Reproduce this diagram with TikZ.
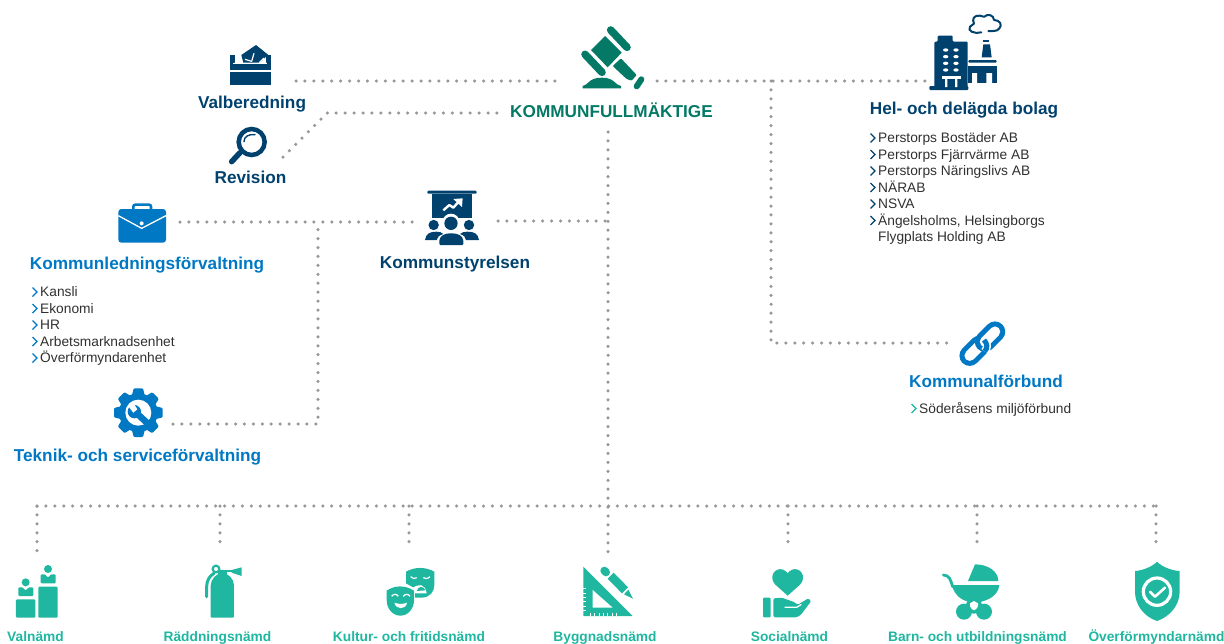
\documentclass[tikz,border=0pt]{standalone}
\usepackage{fontspec}
\setmainfont{Liberation Sans}
\definecolor{navy}{HTML}{00416E}
\definecolor{blu}{HTML}{0078C4}
\definecolor{kfg}{HTML}{047A66}
\definecolor{tl}{HTML}{1FB7A0}
\definecolor{dot}{HTML}{989898}
\definecolor{txt}{HTML}{303030}
\tikzset{
  z/.style 2 args={shift={(#1,#2)},scale=1/3},
  conn/.style={dot,line width=3.5pt,line cap=round,dash pattern=on 0pt off 8.93pt},
  lab/.style={font=\fontsize{17.2}{19}\selectfont\bfseries,inner sep=0pt,anchor=base},
  blab/.style={font=\fontsize{13.75}{15}\selectfont\bfseries,text=tl,inner sep=0pt,anchor=base},
  item/.style={font=\fontsize{13.75}{15}\selectfont,text=txt,inner sep=0pt,anchor=base west},
  chev/.style={line width=1.3pt,line join=miter},
}
\newcommand{\chv}[3]{\draw[chev,#3] (#1-2.5,#2-9) -- (#1+2,#2-4.5) -- (#1-2.5,#2);}
\begin{document}
\begin{tikzpicture}[x=1pt,y=-1pt]
\useasboundingbox (0,0) rectangle (1224,643);
% coordinates
\coordinate (val) at (296,81); \coordinate (kfl) at (560,81);
\coordinate (rev) at (283,157); \coordinate (revb) at (327,113); \coordinate (kfl2) at (497,113);
\coordinate (kfr) at (657,81); \coordinate (bol) at (925,81);
\coordinate (jr) at (771,81); \coordinate (jr2) at (771,343); \coordinate (kfb) at (947,343);
\coordinate (kfd) at (608,132); \coordinate (byg) at (608,560);
\coordinate (kl) at (180,222); \coordinate (ksl) at (415,222);
\coordinate (ksr) at (498,221); \coordinate (ksr2) at (608,221);
\coordinate (j2) at (318,222); \coordinate (j3) at (318,424); \coordinate (tek) at (173,424);
\coordinate (bl) at (37,506); \coordinate (br) at (1156,506);
\foreach \n/\x/\y in {a/37/558,b/220/550,c/409/550,d/788/550,e/977/550,f/1156/545}{
  \coordinate (d\n) at (\x,\y); \coordinate (t\n) at (\x,506);}
% connectors
\draw[conn] (val) -- (kfl);
\draw[conn] (rev) -- (revb) -- (kfl2);
\draw[conn] (kfr) -- (bol);
\draw[conn] (jr) -- (jr2) -- (kfb);
\draw[conn] (kfd) -- (byg);
\draw[conn] (kl) -- (ksl);
\draw[conn] (ksr) -- (ksr2);
\draw[conn] (tek) -- (j3) -- (j2);
\draw[conn] (bl) -- (br);
\foreach \n in {a,b,c,d,e,f}{\draw[conn] (t\n) -- (d\n);}
% labels
\node[lab,text=navy] (lval) at (252,108.5) {Valberedning};
\node[lab,text=navy] (lrev) at (250.5,183) {Revision};
\node[lab,text=kfg] (lkf) at (611.5,117) {KOMMUNFULLMÄKTIGE};
\node[lab,text=navy] (lbol) at (964,114.5) {Hel- och delägda bolag};
\node[lab,text=blu] (lkl) at (147,269) {Kommunledningsförvaltning};
\node[lab,text=navy] (lks) at (455,268) {Kommunstyrelsen};
\node[lab,text=blu] (ltek) at (137.5,461) {Teknik- och serviceförvaltning};
\node[lab,text=blu] (lkfb) at (986,387) {Kommunalförbund};
\node[blab] (b1) at (35.5,641) {Valnämd};
\node[blab] (b2) at (217.5,641) {Räddningsnämd};
\node[blab] (b3) at (409,641) {Kultur- och fritidsnämd};
\node[blab] (b4) at (605,641) {Byggnadsnämd};
\node[blab] (b5) at (789.5,641) {Socialnämd};
\node[blab] (b6) at (977.5,641) {Barn- och utbildningsnämd};
\node[blab] (b7) at (1156.5,641) {Överförmyndarnämd};
% lists
\foreach \t/\y [count=\i] in {Perstorps Bostäder AB/142.5,Perstorps Fjärrvärme AB/159,Perstorps Näringslivs AB/175.5,NÄRAB/192,NSVA/208.5,{Ängelsholms, Helsingborgs}/225}{
  \node[item] (h\i) at (878,\y) {\t}; \chv{873}{\y}{navy}}
\node[item] (h7) at (878,241.5) {Flygplats Holding AB};
\foreach \t/\y [count=\i] in {Kansli/296.5,Ekonomi/313,HR/329.5,Arbetsmarknadsenhet/346,Överförmyndarenhet/362.5}{
  \node[item] (k\i) at (40,\y) {\t}; \chv{35}{\y}{blu}}
\node[item] (s1) at (919,413) {Söderåsens miljöförbund}; \chv{914}{413}{tl}
% ballot box
\begin{scope}[z={180}{20}]
 \fill[navy] (228,75) -- (264,104) -- (240,128) -- (190,128) -- (184,105) -- cycle;
 \fill[navy] (150,105) -- (165,105) -- (165,150) -- (150,150) -- cycle;
 \fill[navy] (258,105) -- (272,105) -- (272,150) -- (258,150) -- cycle;
 \fill[navy] (150,132) rectangle (272,150);
 \fill[navy] (150,157) rectangle (272,195);
 \draw[white,line width=1.2pt] (165,130) -- (173,116) -- (186,128) (258,130) -- (250,116) -- (238,128);
 \draw[white,line width=1.2pt] (160,131) -- (262,131);
 \draw[white,line width=1.2pt] (195,118) -- (215,124) -- (222,100);
 \draw[navy,line width=4.5pt] (215,366) circle (39);
 \draw[navy,line width=5.5pt,line cap=round] (180,398) -- (155,425);
 \draw[navy,line width=1.4pt,line cap=round] (192,365) .. controls (192,350) and (205,342) .. (225,344);
\end{scope}
% gavel
\begin{scope}[z={560}{10}]
 \fill[kfg] (135,78) -- (93,120) -- (143,172) -- (185,128) -- cycle;
 \draw[kfg,line width=7.6pt,line cap=round] (152,60) -- (201,112);
 \draw[kfg,line width=7.6pt,line cap=round] (75,133) -- (126,187);
 \fill[kfg,rounded corners=1pt] (158,168) -- (183,145) -- (230,195) -- (215,212) -- (200,207) -- cycle;
 \draw[kfg,line width=6pt,line cap=round] (244,208) -- (230,229);
 \fill[kfg] (68,235) -- (68,228) .. controls (85,226) and (85,203) .. (125,203) .. controls (165,203) and (165,226) .. (183,228) -- (183,235) -- cycle;
\end{scope}
% factory
\begin{scope}[z={900}{5}]
 \fill[navy,rounded corners=1pt] (103,250) -- (103,110) -- (113,110) -- (113,92) -- (158,92) -- (158,110) -- (203,110) -- (203,250) -- cycle;
 \fill[navy,rounded corners=1pt] (88,243) rectangle (205,255);
 \foreach \x in {137,168}\foreach \y in {135,155,175,195}{\fill[white] (\x,\y) ellipse (8 and 5);}
 \fill[white] (125,212) rectangle (182,221);
 \fill[white] (135,221) rectangle (142,246) (165,221) rectangle (172,246);
 \fill[navy,rounded corners=1pt] (205,165) rectangle (290,173);
 \fill[navy] (205,182) rectangle (290,234);
 \fill[white] (216,204) rectangle (231,234) (259,204) rectangle (276,234);
 \fill[navy] (250,118) -- (270,118) -- (275,157) -- (245,157) -- cycle;
 \fill[navy] (250,104) rectangle (268,110);
 \draw[navy,line width=2pt,line cap=round,line join=round] (244,82) .. controls (225,88) and (200,78) .. (210,65) .. controls (214,58) and (222,60) .. (222,56) .. controls (215,42) and (222,30) .. (240,32) .. controls (246,33) and (250,36) .. (253,35) .. controls (262,25) and (282,30) .. (282,45) .. controls (300,45) and (308,60) .. (298,70) .. controls (292,80) and (278,78) .. (265,78);
\end{scope}
% briefcase & presentation
\begin{scope}[z={100}{185}]
 \draw[blu,line width=2.6pt,rounded corners=2pt] (100,72) -- (100,59) -- (153,59) -- (153,72);
 \fill[blu,rounded corners=3pt] (55,72) rectangle (198,173);
 \draw[white,line width=1.3pt] (55,92) -- (125,130) -- (198,92);
 \fill[white] (125,115) circle (6);
 % presentation
 \fill[navy,rounded corners=1pt] (982,17) rectangle (1130,26);
 \fill[navy] (995,26) rectangle (1115,100);
 \draw[white,line width=2.4pt,line join=round] (1030,76) -- (1048,60) -- (1060,68) -- (1078,48);
 \fill[white] (1060,42) -- (1088,40) -- (1086,66) -- cycle;
 \fill[white] (1053,112) circle (26);
 \fill[navy] (1053,115) circle (20);
 \fill[white] (1000,120) circle (20) (1108,120) circle (20);
 \fill[navy] (1001,120) circle (15.5);
 \fill[navy] (1107,120) circle (15.5);
 \fill[navy] (975,165) .. controls (978,145) and (990,140) .. (1010,140) .. controls (1020,140) and (1024,142) .. (1030,147) .. controls (1017,152) and (1012,155) .. (1010,165) -- cycle;
 \fill[navy] (1137,165) .. controls (1134,145) and (1122,140) .. (1102,140) .. controls (1092,140) and (1086,142) .. (1080,147) .. controls (1093,152) and (1096,155) .. (1098,165) -- cycle;
 \fill[navy,rounded corners=1pt] (1018,180) -- (1018,168) .. controls (1020,152) and (1035,145) .. (1053,145) .. controls (1073,145) and (1088,152) .. (1090,168) -- (1090,180) -- cycle;
\end{scope}
% gear
\begin{scope}[z={100}{380}]
 \fill[blu] (115,98) circle (58);
 \foreach \a in {0,45,...,315}{
  \fill[blu,shift={(115,98)},rotate=\a,rounded corners=1pt] (45,-21) -- (73,-14) -- (73,14) -- (45,21) -- cycle;}
 \fill[white] (115,98) circle (39);
 \begin{scope}
 \clip (115,98) circle (50);
 \draw[blu,line width=6.5pt] (108,98) -- (170,155);
 \end{scope}
 \fill[blu] (103,95) circle (20);
 \fill[white] (86,80) -- (100,68) -- (112,88) -- (100,98) -- cycle;
\end{scope}
% chain
\begin{scope}[z={900}{315}]
 \draw[blu,line width=20.5pt,line cap=round] (209,122) -- (238,93);
 \draw[white,line width=10.5pt,line cap=round] (209,122) -- (238,93);
 \draw[blu,line width=20.5pt,line cap=round] (285,50) -- (255,80);
 \draw[white,line width=10.5pt,line cap=round] (285,50) -- (255,80);
 \draw[white,line width=8pt] (254,109) .. controls (263,100) and (263,86) .. (254,77);
 \draw[blu,line width=5pt] (254,109) .. controls (263,100) and (263,86) .. (252,75);
\end{scope}
% Valnämd + extinguisher
\begin{scope}[z={0}{555}]
 \fill[tl,rounded corners=1pt] (48,133) rectangle (106,188);
 \fill[tl,rounded corners=1pt] (115,95) rectangle (173,188);
 \fill[tl] (77,82) circle (12);
 \fill[tl] (144,42) circle (12);
 \fill[tl,rounded corners=1pt] (55,97) -- (68,97) -- (77,107) -- (86,97) -- (100,97) -- (100,123) -- (55,123) -- cycle;
 \fill[tl,rounded corners=1pt] (122,58) -- (135,58) -- (144,68) -- (153,58) -- (167,58) -- (167,85) -- (122,85) -- cycle;
 % extinguisher
 \fill[tl,rounded corners=1pt] (632,188) -- (632,95) .. controls (632,72) and (650,55) .. (667,55) .. controls (685,55) and (702,72) .. (702,95) -- (702,188) -- cycle;
 \draw[tl,line width=2.2pt] (648,42) circle (10);
 \fill[tl] (655,50) rectangle (682,60);
 \fill[tl] (658,44) rectangle (695,50);
 \fill[tl] (695,45) -- (725,37) -- (725,63) -- (695,53) -- cycle;
 \draw[tl,line width=3pt,line cap=round] (620,125) -- (620,95) .. controls (620,75) and (630,62) .. (642,55);
\end{scope}
% masks + set square
\begin{scope}[z={370}{555}]
 \fill[tl] (108,50) .. controls (135,35) and (165,35) .. (193,50) -- (193,90) .. controls (193,110) and (180,127) .. (155,128) -- (135,128) -- (135,100) -- (108,85) -- cycle;
 \fill[white] (127,100) .. controls (145,85) and (165,85) .. (170,115) -- (136,115) -- cycle;
 \fill[tl] (140,108) .. controls (145,92) and (160,92) .. (167,106) -- cycle;
 \draw[white,line width=1.2pt] (122,65) .. controls (128,72) and (135,72) .. (140,68) (160,68) .. controls (165,72) and (172,72) .. (180,65);
 \fill[tl] (50,107) .. controls (75,90) and (105,90) .. (132,107) -- (132,135) .. controls (132,160) and (115,182) .. (91,182) .. controls (67,182) and (50,160) .. (50,135) -- cycle;
 \draw[white,line width=1.2pt] (65,124) .. controls (70,116) and (80,116) .. (85,124) (100,124) .. controls (105,116) and (115,116) .. (120,124);
 \fill[white] (73,143) .. controls (85,148) and (100,148) .. (111,143) .. controls (108,165) and (78,165) .. (73,143) -- cycle;
 % set square
 \fill[tl] (640,35) -- (788,183) -- (640,183) -- cycle;
 \fill[white] (668,105) -- (728,158) -- (668,158) -- cycle;
 \foreach \y in {100,113,126,139,152,165}{\fill[white] (640,\y) rectangle (648,\y+3);}
 \foreach \x in {660,673,686,699,712,725,738}{\fill[white] (\x,175) rectangle (\x+3,183);}
 \draw[tl,line width=8pt,line cap=round] (703,47) -- (708,52);
 \draw[tl,line width=8.5pt] (722,62) -- (765,106);
 \fill[tl] (762,118) -- (775,104) -- (789,131) -- cycle;
\end{scope}
% social, stroller, shield
\begin{scope}[z={740}{555}]
 \fill[tl] (143,122) -- (105,88) .. controls (85,65) and (105,35) .. (130,44) .. controls (137,47) and (141,52) .. (143,55) .. controls (145,52) and (149,47) .. (156,44) .. controls (181,35) and (201,65) .. (181,88) -- cycle;
 \fill[tl,rounded corners=1pt] (69,128) rectangle (92,187);
 \fill[tl,rounded corners=1.5pt] (100,130) -- (125,128) -- (165,142) -- (172,150) -- (205,130) -- (214,138) -- (182,180) -- (170,187) -- (100,187) -- cycle;
 \draw[white,line width=1.3pt,line cap=round] (135,157) -- (170,157) -- (183,149);
 % stroller
 \fill[tl] (684,78) -- (705,28) .. controls (745,28) and (775,50) .. (775,78) -- cycle;
 \fill[tl] (635,90) -- (778,90) .. controls (775,125) and (735,142) .. (705,142) .. controls (670,142) and (645,125) .. (635,90) -- cycle;
 \draw[tl,line width=2.8pt,line cap=round] (610,60) .. controls (628,60) and (632,75) .. (638,95);
 \fill[tl] (702,152) circle (24);
 \fill[white] (702,138) -- (714,145) -- (714,159) -- (702,166) -- (690,159) -- (690,145) -- cycle;
 \fill[tl] (672,170) circle (24);
 \fill[tl] (732,170) circle (24);
 % shield
 \fill[tl] (1251,20) .. controls (1265,35) and (1295,47) .. (1319,48) -- (1319,110) .. controls (1319,150) and (1290,185) .. (1251,198) .. controls (1212,185) and (1185,150) .. (1185,110) -- (1185,48) .. controls (1207,47) and (1237,35) .. (1251,20) -- cycle;
 \draw[white,line width=3.2pt] (1251,110) circle (41);
 \draw[white,line width=2.6pt,line cap=round,line join=round] (1230,110) -- (1245,125) -- (1275,98);
\end{scope}
\end{tikzpicture}
\end{document}
